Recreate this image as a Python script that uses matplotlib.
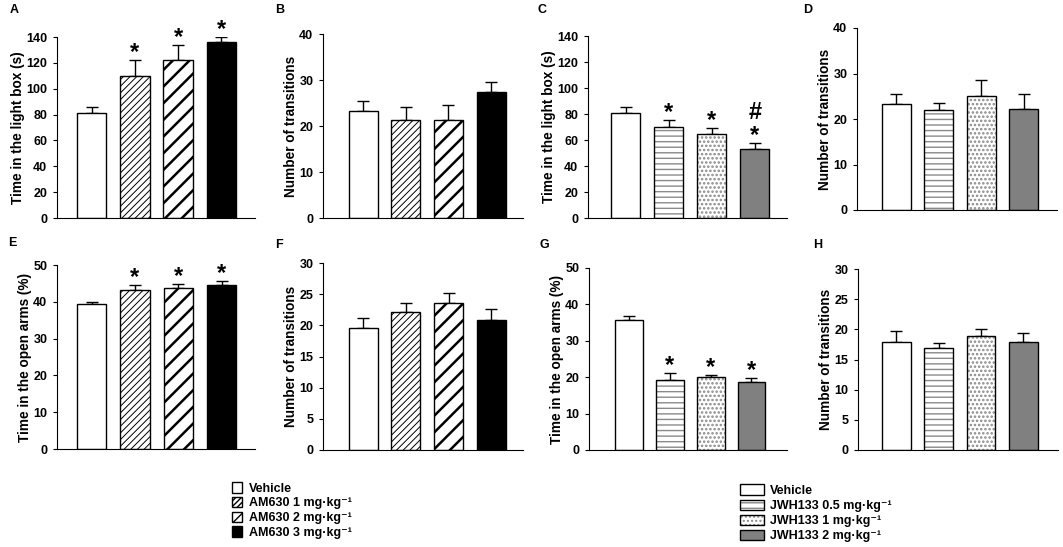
import matplotlib
matplotlib.use('Agg')
import matplotlib.pyplot as plt
from matplotlib.patches import Patch
from matplotlib.legend_handler import HandlerTuple

plt.rcParams['font.family'] = ['Liberation Sans', 'DejaVu Sans']
plt.rcParams['font.weight'] = 'bold'

# groups
am_groups = ['Vehicle', 'AM630 1 mg·kg⁻¹', 'AM630 2 mg·kg⁻¹', 'AM630 3 mg·kg⁻¹']
jwh_groups = ['Vehicle', 'JWH133 0.5 mg·kg⁻¹', 'JWH133 1 mg·kg⁻¹', 'JWH133 2 mg·kg⁻¹']

# A - light box time, AM630
a_mean = [81, 110, 122, 136]
a_sem = [4.5, 12, 12, 4]
a_sig = ['', '*', '*', '*']
# B - transitions, AM630
b_mean = [23.2, 21.2, 21.2, 27.5]
b_sem = [2.3, 3.0, 3.3, 2.0]
# C - light box time, JWH133
c_mean = [81, 70, 65, 53]
c_sem = [4.5, 5.5, 4.5, 4.5]
c_sig = ['', '*', '*', '#\n*']
# D - transitions, JWH133
d_mean = [23.2, 22.0, 25.0, 22.3]
d_sem = [2.3, 1.5, 3.5, 3.2]
# E - open arms, AM630
e_mean = [39.5, 43.2, 43.8, 44.5]
e_sem = [0.5, 1.3, 1.0, 1.2]
e_sig = ['', '*', '*', '*']
# F - transitions, AM630
f_mean = [19.5, 22.2, 23.6, 20.8]
f_sem = [1.7, 1.4, 1.6, 1.8]
# G - open arms, JWH133
g_mean = [35.7, 19.2, 20.1, 18.6]
g_sem = [1.2, 1.9, 0.6, 1.3]
g_sig = ['', '*', '*', '*']
# H - transitions, JWH133
h_mean = [17.9, 16.9, 18.9, 17.9]
h_sem = [1.9, 0.8, 1.1, 1.5]

light_lbl = 'Time in the light box (s)'
trans_lbl = 'Number of transitions'
open_lbl = 'Time in the open arms (%)'

# bar styles: (facecolor, hatch, hatch colour, hatch linewidth)
am_style = [('white', None, 'black', 1.0), ('white', '/////', 'black', 0.7),
            ('white', '//', 'black', 1.8), ('black', None, 'black', 1.0)]
jwh_style = [('white', None, 'black', 1.0), ('white', '---', '#8a8a8a', 1.0),
             ('white', '....', '#888888', 1.2), ('#808080', None, 'black', 1.0)]

W, H = 1063, 547
fig = plt.figure(figsize=(W / 100, H / 100), dpi=100)


def px_axes(l, r, t, b):
    return fig.add_axes([l / W, 1 - b / H, (r - l) / W, (b - t) / H])


def draw_panel(box, letter, letter_xy, mean, sem, styles, ymax, ystep, ylabel, xlim, sig=None):
    ax = px_axes(*box)
    x = range(len(mean))
    for i in x:
        fc, hatch, hc, hlw = styles[i]
        b = ax.bar(i, mean[i], width=0.68, color=fc, edgecolor=hc if hatch else 'black',
                   hatch=hatch, linewidth=0 if hatch else 1.0, zorder=2)
        if hatch:
            for p in b:
                if hasattr(p, 'set_hatch_linewidth'):
                    p.set_hatch_linewidth(hlw)
            ax.bar(i, mean[i], width=0.68, fill=False, edgecolor='black', linewidth=1.0, zorder=3)
    ax.errorbar(list(x), mean, yerr=[[0] * len(sem), sem], fmt='none', ecolor='black',
                elinewidth=1.0, capsize=4, capthick=1.0, zorder=1)
    if sig:
        for i in x:
            if sig[i]:
                ax.annotate(sig[i], (i, mean[i] + sem[i]), xytext=(0, -3), textcoords='offset points',
                            ha='center', va='bottom', fontsize=17, linespacing=1.0)
    ax.set_xlim(*xlim)
    ax.set_ylim(0, ymax)
    ax.set_yticks(range(0, ymax + 1, ystep))
    ax.set_xticks([])
    ax.spines['top'].set_visible(False)
    ax.spines['right'].set_visible(False)
    ax.tick_params(axis='y', length=3, width=0.8, labelsize=9, pad=4)
    for t in ax.get_yticklabels():
        t.set_fontweight('bold')
    ax.set_ylabel(ylabel, fontsize=9.8, fontweight='bold', labelpad=1)
    fig.text(letter_xy[0] / W, 1 - letter_xy[1] / H, letter, fontsize=9, fontweight='bold',
             ha='left', va='center')
    return ax


draw_panel((57, 255, 37, 218), 'A', (10, 10), a_mean, a_sem, am_style, 140, 20, light_lbl, (-0.8, 3.78), a_sig)
draw_panel((323, 523, 34, 218), 'B', (275, 10), b_mean, b_sem, am_style, 40, 10, trans_lbl, (-0.94, 3.75))
draw_panel((588, 787, 36, 218), 'C', (537, 10), c_mean, c_sem, jwh_style, 140, 20, light_lbl, (-0.88, 3.75), c_sig)
draw_panel((857, 1057, 28, 210), 'D', (803, 10), d_mean, d_sem, jwh_style, 40, 10, trans_lbl, (-0.93, 3.79))
draw_panel((57, 255, 265, 449), 'E', (8, 243), e_mean, e_sem, am_style, 50, 10, open_lbl, (-0.8, 3.77), e_sig)
draw_panel((323, 523, 263, 450), 'F', (275, 245), f_mean, f_sem, am_style, 30, 5, trans_lbl, (-0.94, 3.74))
draw_panel((589, 787, 268, 450), 'G', (540, 245), g_mean, g_sem, jwh_style, 50, 10, open_lbl, (-0.98, 3.87), g_sig)
draw_panel((858, 1058, 269, 450), 'H', (813, 245), h_mean, h_sem, jwh_style, 30, 5, trans_lbl, (-0.91, 3.82))


def legend_handles(styles, dense=False):
    hs = []
    for fc, hatch, hc, hlw in styles:
        if hatch:
            if dense and hatch.startswith('/'):
                hatch = hatch + '/'
            inner = Patch(facecolor=fc, edgecolor=hc, hatch=hatch, linewidth=0)
            if hasattr(inner, 'set_hatch_linewidth'):
                inner.set_hatch_linewidth(hlw)
            outer = Patch(fill=False, edgecolor='black', linewidth=1.0)
            hs.append((inner, outer))
        else:
            hs.append(Patch(facecolor=fc, edgecolor='black', linewidth=1.0))
    return hs


fig.legend(legend_handles(am_style, dense=True), am_groups, loc='upper left',
           bbox_to_anchor=(221 / W, 1 - 471 / H), frameon=False,
           handlelength=0.75, handleheight=0.9, handletextpad=0.6, labelspacing=0.17,
           handler_map={tuple: HandlerTuple(ndivide=1, pad=0)}, prop={'weight': 'bold', 'size': 9})
fig.legend(legend_handles(jwh_style), jwh_groups, loc='upper left',
           bbox_to_anchor=(729 / W, 1 - 473 / H), frameon=False,
           handlelength=1.9, handleheight=0.9, handletextpad=0.5, labelspacing=0.22,
           handler_map={tuple: HandlerTuple(ndivide=1, pad=0)}, prop={'weight': 'bold', 'size': 9})

fig.savefig('out.png', dpi=100)
